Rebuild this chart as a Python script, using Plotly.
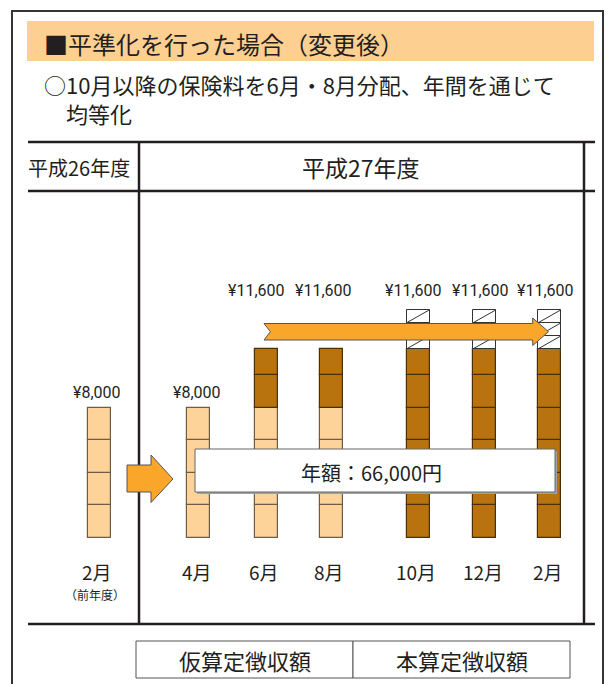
import plotly.graph_objects as go

W, H = 608, 684

# ---------------- data ----------------
months = ["2月", "4月", "6月", "8月", "10月", "12月", "2月"]
month_notes = ["（前年度）", "", "", "", "", "", ""]
provisional = [8000, 8000, 8000, 8000, 0, 0, 0]        # 仮算定徴収額 portion
final = [0, 0, 3600, 3600, 11600, 11600, 11600]         # 本算定徴収額 portion
moved = [0, 0, 0, 0, 2400, 2400, 2400]                  # portion moved to 6月・8月 (hatched)
block = 2000
hatch_block = 800

fiscal_years = ["平成26年度", "平成27年度"]
legend_labels = ["仮算定徴収額", "本算定徴収額"]
title_text = "■平準化を行った場合（変更後）"
subtitle_lines = ["○10月以降の保険料を6月・8月分配、年間を通じて", "　均等化"]
annual_label = "年額："

# ---------------- layout constants (pixels) ----------------
bar_x = [99, 198.5, 266, 331, 418, 484.5, 549.5]
bar_w = 23
label_y_px = [392, 392, 290, 290, 290, 290, 290]
label_dx = [-2, -2, -10, -8, -5, -4, -4]
base_px = 538          # pixel row of 0 yen
k = 0.0163             # pixels per yen

INK = "#231f20"
LIGHT = "#fdd399"
DARK = "#b8730f"
ORANGE = "#f9a62a"
BAND = "#fdd092"
CJK = "Noto Sans CJK JP, sans-serif"
NUM = "Roboto, Noto Sans CJK JP, sans-serif"


def py(p):
    return 1 - p / H


# ---------------- segments ----------------
def chunks(start, amount, size):
    out = []
    b = start
    end = start + amount
    while b < end:
        h = min(size, end - b)
        out.append((b, h))
        b += h
    return out


light = {"x": [], "b": [], "h": []}
dark = {"x": [], "b": [], "h": []}
hatch = {"x": [], "b": [], "h": []}
for i in range(len(months)):
    for b, h in chunks(0, provisional[i], block):
        light["x"].append(bar_x[i]); light["b"].append(b); light["h"].append(h)
    for b, h in chunks(provisional[i], final[i], block):
        dark["x"].append(bar_x[i]); dark["b"].append(b); dark["h"].append(h)
    for b, h in chunks(provisional[i] + final[i], moved[i], hatch_block):
        hatch["x"].append(bar_x[i]); hatch["b"].append(b); hatch["h"].append(h)

fig = go.Figure()
fig.add_trace(go.Bar(x=light["x"], y=light["h"], base=light["b"], width=bar_w,
                     marker=dict(color=LIGHT, line=dict(color="#6e5c48", width=1.2)),
                     hoverinfo="skip", showlegend=False))
fig.add_trace(go.Bar(x=dark["x"], y=dark["h"], base=dark["b"], width=bar_w,
                     marker=dict(color=DARK, line=dict(color="#4a2f08", width=1.2)),
                     hoverinfo="skip", showlegend=False))
fig.add_trace(go.Bar(x=hatch["x"], y=hatch["h"], base=hatch["b"], width=bar_w,
                     marker=dict(color="white", line=dict(color="#333333", width=1)),
                     hoverinfo="skip", showlegend=False))
dx, dy = [], []
for x, b, h in zip(hatch["x"], hatch["b"], hatch["h"]):
    dx += [x - bar_w / 2, x + bar_w / 2, None]
    dy += [b, b + h, None]
fig.add_trace(go.Scatter(x=dx, y=dy, mode="lines", line=dict(color="#333333", width=1),
                         hoverinfo="skip", showlegend=False))

shapes = []
ann = []

# outer frame and header band
shapes.append(dict(type="rect", xref="x", yref="paper", x0=12, x1=603, y0=py(11), y1=py(700),
                   line=dict(color="#333333", width=2), fillcolor="rgba(0,0,0,0)", layer="below"))
shapes.append(dict(type="rect", xref="x", yref="paper", x0=27, x1=594, y0=py(21), y1=py(61),
                   line=dict(width=0), fillcolor=BAND, layer="below"))


def hline(y, x0, x1, w=2.5):
    shapes.append(dict(type="line", xref="x", yref="paper", x0=x0, x1=x1, y0=py(y), y1=py(y),
                       line=dict(color=INK, width=w), layer="below"))


def vline(x, y0, y1, w=2.5):
    shapes.append(dict(type="line", xref="x", yref="paper", x0=x, x1=x, y0=py(y0), y1=py(y1),
                       line=dict(color=INK, width=w), layer="below"))


hline(142, 28, 595)
hline(191, 28, 595)
hline(624, 28, 595)
vline(139, 142, 624)
vline(584, 142, 624)

# legend boxes
shapes.append(dict(type="rect", xref="x", yref="paper", x0=136, x1=353, y0=py(641), y1=py(678),
                   line=dict(color="#555555", width=1), fillcolor="white", layer="below"))
shapes.append(dict(type="rect", xref="x", yref="paper", x0=353, x1=570, y0=py(641), y1=py(678),
                   line=dict(color="#555555", width=1), fillcolor="white", layer="below"))


def path(pts):
    return "M " + " L ".join(f"{x},{py(y)}" for x, y in pts) + " Z"


small_arrow = [(127, 465), (151, 465), (151, 455), (173, 479), (151, 502.5), (151, 492), (127, 492)]
big_arrow = [(264, 323.5), (532.7, 323.5), (532.7, 318), (548.5, 331.7), (532.7, 345.5),
             (532.7, 340), (264, 340), (270.4, 331.7)]
for pts in (small_arrow, big_arrow):
    shapes.append(dict(type="path", xref="x", yref="paper", path=path(pts),
                       fillcolor=ORANGE, line=dict(color="#555555", width=1), layer="above"))

# annual box with shadow
shapes.append(dict(type="rect", xref="x", yref="paper", x0=197, x1=557, y0=py(451), y1=py(494),
                   line=dict(width=0), fillcolor="#a0a0a0", layer="above"))
shapes.append(dict(type="rect", xref="x", yref="paper", x0=195, x1=555, y0=py(449), y1=py(492),
                   line=dict(color="#666666", width=1), fillcolor="white", layer="above"))


def text(x, y, s, size, family=CJK, anchor="center", yanchor="middle"):
    ann.append(dict(x=x, y=py(y), xref="x", yref="paper", text=s, showarrow=False,
                    xanchor=anchor, yanchor=yanchor, align="left",
                    font=dict(family=family, size=size, color=INK)))


text(42, 43, title_text, 24, anchor="left")
text(42, 66, "<br>".join(subtitle_lines), 22, anchor="left", yanchor="top")
text(79, 167, fiscal_years[0], 20)
text(361, 167, fiscal_years[1], 23)

for i, m in enumerate(months):
    text(bar_x[i] - 2, 571, m, 19)
    if month_notes[i]:
        text(bar_x[i] - 4, 594, month_notes[i], 12)
    total = provisional[i] + final[i]
    text(bar_x[i] + label_dx[i], label_y_px[i], f"¥{total:,}", 16, family=NUM)

annual_total = sum(provisional[1:]) + sum(final[1:])
text(371, 472, f"{annual_label}{annual_total:,}円", 20)

text(245, 660, legend_labels[0], 22)
text(462, 660, legend_labels[1], 22)

fig.update_layout(
    width=W, height=H, margin=dict(l=0, r=0, t=0, b=0),
    paper_bgcolor="white", plot_bgcolor="white",
    barmode="overlay", bargap=0,
    xaxis=dict(range=[0, W], visible=False, fixedrange=True),
    yaxis=dict(range=[(base_px - H) / k, base_px / k], visible=False, fixedrange=True),
    shapes=shapes, annotations=ann, showlegend=False,
)

fig.write_html("out.html", config={"displayModeBar": False},
               post_script="document.body.style.margin='0';document.body.style.overflow='hidden';")
